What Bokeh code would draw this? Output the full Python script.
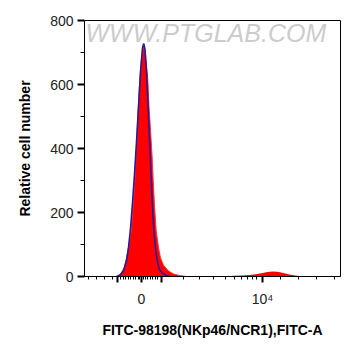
from bokeh.plotting import figure
from bokeh.models import FixedTicker, Range1d, Label
from bokeh.embed import file_html
from bokeh.resources import INLINE

# x in display (logicle-like) units; 0 at value 0, 121 at 10^4
red_x = [-26, -22, -20, -17, -15, -12.5, -10.3, -8.5, -6.7, -5.5, -4.3, -3, -1.7, 0, 1.5, 2.5,
         3.5, 5, 6.3, 7.5, 9, 10.5, 11.7, 13, 14.7, 17, 19, 22, 27, 32, 38, 45]
red_y = [0, 5, 12, 30, 58, 100, 143, 220, 300, 380, 457, 540, 614, 680, 712, 719,
         705, 660, 614, 530, 457, 380, 300, 220, 143, 90, 58, 35, 17, 8, 3, 0]

red2_x = [86, 92, 100, 108, 114, 120, 126, 131, 136, 142, 148, 154, 162]
red2_y = [0, 2, 3, 5, 7, 10, 14, 16, 15, 11, 6, 3, 0]

blue_x = [-24, -21, -18, -15, -13, -11, -9, -7, -5, -3, -1, 1, 2.3, 3.5, 5, 6.5, 8, 9.5,
          11, 12.5, 14, 16, 18, 21, 25, 28]
blue_y = [0, 6, 18, 50, 90, 150, 230, 320, 420, 530, 640, 715, 728, 710, 640, 540, 430, 320,
          220, 140, 85, 45, 22, 10, 3, 0]

x_major = [-24, 0, 20, 121]
x_labels = {-24: "", 0: "0", 20: "", 121: "10\u2074"}
x_minor = [-53, -45, -37, -29, -21, -18.5, -16, -13.5, -11, -8.5, -6, -3.5, -2, 2, 3.5, 6,
           8.5, 11, 13.5, 16, 41.7, 58.3, 72.3, 84, 93, 100, 105.7, 110.7, 115,
           139, 157, 175, 193]
y_major = [0, 200, 400, 600, 800]
y_minor = [100, 300, 500, 700]

p = figure(width=361, height=356, output_backend="svg", toolbar_location=None,
           x_range=Range1d(-57, 199), y_range=Range1d(0, 800),
           min_border_left=84, min_border_right=21, min_border_top=20, min_border_bottom=80)
p.background_fill_color = "white"
p.border_fill_color = "white"
p.outline_line_color = "black"
p.outline_line_width = 1
p.xgrid.visible = False
p.ygrid.visible = False

p.varea(x=red_x, y1=0, y2=red_y, fill_color="#ff0000")
p.varea(x=red2_x, y1=0, y2=red2_y, fill_color="#ff0000")
p.line(x=red_x, y=red_y, line_color="#ff3030", line_width=1)
p.line(x=blue_x, y=blue_y, line_color="#2a1a9a", line_width=1.6)

wm = Label(x=-57, y=800, text="WWW.PTGLAB.COM", text_font="Liberation Sans",
           text_font_size="25px", text_font_style="italic", text_color="#cccccc",
           text_baseline="top", text_align="left", x_offset=1, y_offset=2)
p.add_layout(wm)

xa = p.xaxis[0]
xa.ticker = FixedTicker(ticks=x_major, minor_ticks=x_minor)
xa.major_label_overrides = x_labels
xa.axis_label = "FITC-98198(NKp46/NCR1),FITC-A"
ya = p.yaxis[0]
ya.ticker = FixedTicker(ticks=y_major, minor_ticks=y_minor)
ya.axis_label = "Relative cell number"

for ax in (xa, ya):
    ax.axis_line_color = "black"
    ax.major_tick_line_color = "black"
    ax.minor_tick_line_color = "black"
    ax.major_tick_in = 0
    ax.minor_tick_in = 0
    ax.major_label_text_font = "Liberation Sans"
    ax.major_label_text_font_size = "14px"
    ax.major_label_text_color = "#222222"
    ax.axis_label_text_font = "Liberation Sans"
    ax.axis_label_text_font_size = "14px"
    ax.axis_label_text_font_style = "bold"
    ax.axis_label_text_color = "black"

ya.major_tick_out = 7
ya.minor_tick_out = 4
ya.major_tick_line_width = 2
ya.major_label_standoff = 4
ya.axis_label_standoff = 14
xa.major_tick_out = 6
xa.minor_tick_out = 3
xa.major_tick_line_width = 2
xa.major_label_standoff = 8
xa.axis_label_standoff = 12

open("out.html", "w").write(file_html(p, INLINE))
